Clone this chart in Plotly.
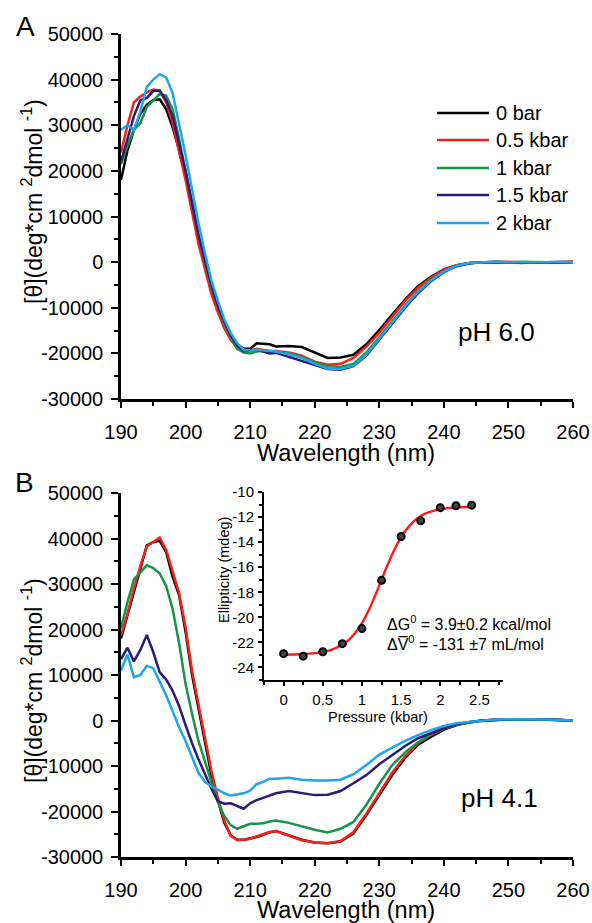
import plotly.graph_objects as go

W, H = 592, 923
FONT = "Arial, Liberation Sans, sans-serif"

# wavelength grid (nm), shared by both panels
WL = [190, 191, 192, 193, 194, 195, 196, 197, 198, 199,
      200, 201, 202, 203, 204, 205, 206, 207, 208, 209,
      210, 211, 212, 213, 214,
      216, 218, 220, 222, 224, 226, 228, 230, 232, 234, 236, 238, 240,
      242, 244, 246, 248, 250, 252, 254, 256, 258, 260]

PRESSURES = ['0 bar', '0.5 kbar', '1 kbar', '1.5 kbar', '2 kbar']
COLORS = ['#000000', '#f5221b', '#17944a', '#2b1a76', '#1ea6e8']

# panel A, pH 6.0
A_0 = [18000, 24500, 29000, 32500, 34500, 35500, 35700, 33500, 29500, 24500,
       18800, 12000, 5000, -500, -6000, -10000, -13500, -16300, -18000, -19000,
       -19000, -17800, -17900, -18000, -18500,
       -18400, -18600, -19800, -21000, -20900, -20300, -18000, -14900, -11500, -8200, -5300, -3200, -1600,
       -700, -200, 0, 100, 0, -100, 0, -100, 0, 100]
A_05 = [24000, 30000, 35000, 36300, 37200, 37800, 37500, 35000, 30500, 24500,
        18000, 11000, 4000, -1500, -7000, -11000, -14500, -17000, -18800, -19500,
        -19500, -19000, -19300, -19500, -19500,
        -19800, -20500, -21800, -22500, -22300, -21000, -18500, -15500, -12000, -8500, -5600, -3400, -1700,
        -700, -200, 0, 0, 100, 0, -100, 0, 0, 100]
A_1 = [21500, 25500, 29000, 30500, 34000, 35500, 36800, 36500, 33500, 27000,
       20000, 13000, 6000, 0, -5500, -9500, -13500, -16500, -19000, -19800,
       -20000, -19600, -19400, -19600, -19700,
       -20000, -20800, -22000, -22800, -23000, -22300, -19800, -16500, -13000, -9500, -6300, -3800, -2000,
       -800, -200, 0, 0, -100, 100, 0, 0, -100, 0]
A_15 = [22000, 27000, 32000, 35500, 36000, 37500, 37600, 35500, 32000, 26000,
        20000, 13000, 6000, 500, -5000, -9500, -13000, -16000, -18300, -19500,
        -19300, -19200, -19600, -20000, -19900,
        -20800, -21600, -22600, -23400, -23600, -22800, -20500, -17000, -13500, -10000, -6800, -4200, -2200,
        -900, -300, 0, -100, 0, -200, 0, -100, 0, 0]
A_2 = [29000, 30000, 29000, 33000, 38400, 40000, 41200, 40500, 37000, 30500,
       23500, 16000, 8500, 2000, -4000, -8500, -12500, -15500, -17800, -19200,
       -19400, -19200, -19300, -19500, -19600,
       -20200, -21000, -22300, -23300, -23400, -22700, -20300, -16800, -13200, -9700, -6500, -4000, -2100,
       -800, -200, 0, 100, 0, 0, -100, 0, 100, 0]

# panel B, pH 4.1
B_0 = [18000, 23000, 28500, 33500, 38500, 39200, 39500, 37000, 31500, 27500,
       19500, 10000, 2500, -5000, -12000, -17500, -22500, -25300, -26200, -26200,
       -25900, -25600, -25100, -24600, -24300,
       -25300, -26200, -26800, -27000, -26600, -24800, -20800, -16300, -12000, -8200, -5300, -3600, -2000,
       -1000, -400, 0, 200, 300, 300, 300, 200, 100, 0]
B_05 = [18700, 23500, 29000, 34000, 38300, 39300, 40200, 37500, 32500, 28000,
        20500, 11000, 3500, -4000, -11000, -17000, -22000, -25300, -26300, -26200,
        -26000, -25500, -25000, -24500, -24300,
        -25300, -26300, -26800, -27000, -26500, -24500, -20500, -16000, -11500, -7800, -5000, -3200, -1800,
        -900, -400, 0, 200, 300, 300, 300, 200, 100, 0]
B_1 = [20300, 26000, 31000, 32500, 34100, 33500, 32300, 29500, 24500, 17000,
       8000, 1500, -4500, -9000, -13500, -18000, -21000, -23000, -23800, -23300,
       -22700, -22700, -22600, -22200, -22000,
       -22500, -23300, -24000, -24600, -23800, -22300, -18500, -13900, -9800, -7000, -4800, -3000, -1700,
       -900, -400, -100, 100, 200, 300, 200, 200, 100, 0]
B_15 = [13500, 16000, 13000, 15500, 18800, 15000, 10600, 9000, 6500, 3200,
        -1000, -5000, -8500, -11800, -15000, -17700, -18300, -18200, -18800, -19400,
        -18200, -17500, -17000, -16500, -16000,
        -15500, -15900, -16400, -16300, -15500, -13800, -12000, -9600, -7600, -5600, -3900, -2800, -1700,
        -800, -300, 0, 200, 300, 300, 200, 300, 100, 0]
B_2 = [11000, 14500, 9500, 10000, 12000, 11500, 8500, 5500, 2000, -1500,
       -4500, -7800, -11500, -13500, -14500, -15200, -16000, -16500, -16300, -16000,
       -15400, -14000, -13500, -12800, -12800,
       -12600, -13000, -13200, -13200, -13000, -11800, -9800, -7500, -6000, -4500, -3200, -2100, -1200,
       -600, -300, 0, 200, 300, 300, 300, 200, 100, 0]

# inset: ellipticity vs pressure, with two-state fit
P_KBAR = [0, 0.25, 0.5, 0.75, 1.0, 1.25, 1.5, 1.75, 2.0, 2.2, 2.4]
ELLIP = [-22.9, -23.1, -22.75, -22.1, -20.9, -17.05, -13.55, -12.3, -11.25, -11.1, -11.05]
FIT_P = [0, 0.2, 0.4, 0.6, 0.8, 0.9, 1.0, 1.1, 1.2, 1.3, 1.4, 1.5, 1.6, 1.7, 1.8, 2.0, 2.2, 2.4]
FIT_E = [-22.98, -22.95, -22.86, -22.62, -21.97, -21.35, -20.46, -19.25, -17.79, -16.23,
         -14.79, -13.6, -12.74, -12.14, -11.75, -11.37, -11.23, -11.18]

Y_TICKS = [-30000, -20000, -10000, 0, 10000, 20000, 30000, 40000, 50000]
X_TICKS = [190, 200, 210, 220, 230, 240, 250, 260]
INSET_Y_TICKS = [-24, -22, -20, -18, -16, -14, -12, -10]
INSET_X_TICKS = [0, 0.5, 1, 1.5, 2, 2.5]


# page pixel -> paper fraction
def px(x):
    return x / W


def py(y):
    return 1 - y / H


fig = go.Figure()

for series, xa, ya in [([A_0, A_05, A_1, A_15, A_2], 'x', 'y'),
                       ([B_0, B_05, B_1, B_15, B_2], 'x2', 'y2')]:
    for name, vals, col in zip(PRESSURES, series, COLORS):
        fig.add_trace(go.Scatter(x=WL, y=vals, mode='lines', name=name, xaxis=xa, yaxis=ya,
                                 line=dict(color=col, width=2.5), showlegend=False))

fig.add_trace(go.Scatter(x=FIT_P, y=FIT_E, mode='lines', xaxis='x3', yaxis='y3',
                         line=dict(color='#ff1a1a', width=2.4, shape='spline'), showlegend=False))
fig.add_trace(go.Scatter(x=P_KBAR, y=ELLIP, mode='markers', xaxis='x3', yaxis='y3',
                         marker=dict(color='#444444', size=7, line=dict(color='black', width=2)),
                         showlegend=False))

axis_common = dict(showline=True, linecolor='black', showgrid=False, zeroline=False,
                   ticks='outside', tickcolor='black', mirror=False, automargin=False,
                   tickfont=dict(family=FONT, size=20, color='black'))

xa_main = dict(axis_common, range=[190, 260], linewidth=2.5, tickwidth=2, ticklen=6,
               tickmode='array', tickvals=X_TICKS, ticktext=[str(t) for t in X_TICKS],
               ticklabelstandoff=7,
               minor=dict(dtick=5, tick0=190, ticks='outside', ticklen=4, tickwidth=2, tickcolor='black'))
ya_main = dict(axis_common, range=[-30000, 50000], linewidth=2.5, tickwidth=2, ticklen=7,
               tickmode='array', tickvals=Y_TICKS, ticktext=[str(t) for t in Y_TICKS],
               ticklabelstandoff=4,
               minor=dict(dtick=5000, tick0=0, ticks='outside', ticklen=4, tickwidth=2, tickcolor='black'))

fig.update_layout(
    width=W, height=H, autosize=False,
    margin=dict(l=0, r=0, t=0, b=0, pad=0, autoexpand=False),
    paper_bgcolor='white', plot_bgcolor='rgba(0,0,0,0)',
    showlegend=False,
    xaxis=dict(xa_main, domain=[px(121), px(573)], anchor='y'),
    yaxis=dict(ya_main, domain=[py(399), py(34)], anchor='x'),
    xaxis2=dict(xa_main, domain=[px(121), px(573)], anchor='y2'),
    yaxis2=dict(ya_main, domain=[py(857), py(493)], anchor='x2'),
    xaxis3=dict(axis_common, domain=[px(264), px(503)], anchor='y3', range=[-0.25, 2.8],
                linewidth=2, tickwidth=1.5, ticklen=4,
                tickmode='array', tickvals=INSET_X_TICKS, ticktext=[str(t) for t in INSET_X_TICKS],
                tickfont=dict(family=FONT, size=15, color='black'), ticklabelstandoff=1,
                minor=dict(dtick=0.25, tick0=0, ticks='outside', ticklen=3, tickwidth=1.5, tickcolor='black')),
    yaxis3=dict(axis_common, domain=[py(680), py(492)], anchor='x3', range=[-25, -10],
                linewidth=2, tickwidth=1.5, ticklen=4,
                tickmode='array', tickvals=INSET_Y_TICKS, ticktext=[str(t) for t in INSET_Y_TICKS],
                tickfont=dict(family=FONT, size=15, color='black'), ticklabelstandoff=1,
                minor=dict(dtick=1, tick0=-25, ticks='outside', ticklen=3, tickwidth=1.5, tickcolor='black')),
)


def ann(text, x, y, size, xanchor='center', **kw):
    return dict(text=text, x=px(x), y=py(y), xref='paper', yref='paper', showarrow=False,
                xanchor=xanchor, yanchor='middle',
                font=dict(family=FONT, size=size, color='black'), **kw)


ytitle = '[θ](deg*cm <sup>2</sup>dmol <sup>-1</sup>)'
annotations = [
    ann('A', 25, 27, 28),
    ann('B', 24, 482, 28),
    ann(ytitle, 32, 202, 23, textangle=-90),
    ann(ytitle, 32, 681, 23, textangle=-90),
    ann('Wavelength (nm)', 346, 453, 23.5),
    ann('Wavelength (nm)', 346, 910, 23.5),
    ann('pH 6.0', 497, 332, 26),
    ann('pH 4.1', 499, 798, 26),
    ann('Ellipticity (mdeg)', 224, 570, 14.5, textangle=-90),
    ann('Pressure (kbar)', 378, 717, 14.5),
    ann('ΔG<sup>0</sup> = 3.9±0.2 kcal/mol', 385, 623, 16, xanchor='left'),
    ann('ΔV\u0305<sup>0</sup> = -131 ±7 mL/mol', 385, 643, 16, xanchor='left'),
]

# legend for panel A, drawn by hand so the line samples are long like the original
shapes = []
legend_rows = [113, 140, 168, 195, 223]
for name, col, yy in zip(PRESSURES, COLORS, legend_rows):
    shapes.append(dict(type='line', xref='paper', yref='paper', x0=px(437), x1=px(489),
                       y0=py(yy), y1=py(yy), line=dict(color=col, width=2.5)))
    annotations.append(ann(name, 494, yy, 20, xanchor='left'))

fig.update_layout(annotations=annotations, shapes=shapes)

# drop the default page margin so the 592x923 figure fills the window without scrollbars
fig.write_html("out.html", config={'displayModeBar': False},
               post_script="document.body.style.margin='0';document.body.style.overflow='hidden';")
